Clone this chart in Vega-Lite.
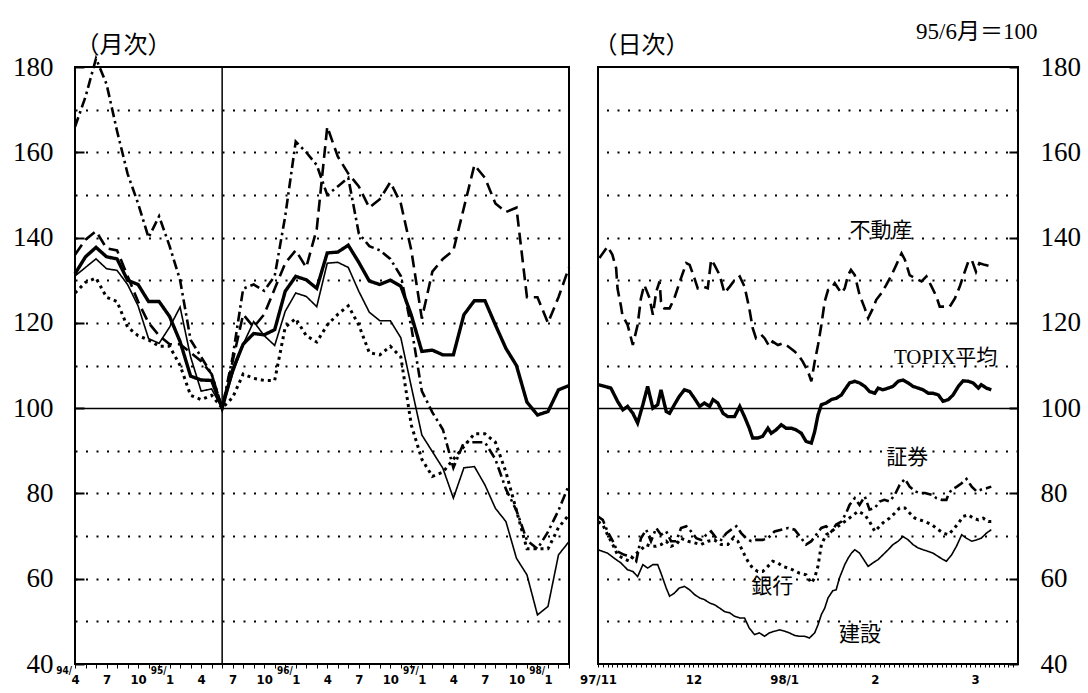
{
  "$schema": "https://vega.github.io/schema/vega-lite/v6.json",
  "background": "white",
  "padding": {"left": 11, "top": 19, "right": 5, "bottom": 2},
  "spacing": 29,
  "bounds": "flush",
  "config": {
    "view": {"stroke": "#000", "strokeWidth": 2},
    "axis": {"labelColor": "#000", "tickColor": "#000", "domain": false}
  },
  "datasets": {
    "monthly": [
      {"s":"TOPIX平均","i":0,"v":131.5},{"s":"TOPIX平均","i":1,"v":135.5},{"s":"TOPIX平均","i":2,"v":137.7},{"s":"TOPIX平均","i":3,"v":135.5},{"s":"TOPIX平均","i":4,"v":135},{"s":"TOPIX平均","i":5,"v":130},{"s":"TOPIX平均","i":6,"v":129},{"s":"TOPIX平均","i":7,"v":125},{"s":"TOPIX平均","i":8,"v":125},{"s":"TOPIX平均","i":9,"v":121.5},{"s":"TOPIX平均","i":10,"v":115.6},{"s":"TOPIX平均","i":11,"v":107.5},{"s":"TOPIX平均","i":12,"v":106.6},{"s":"TOPIX平均","i":13,"v":106.5},{"s":"TOPIX平均","i":14,"v":100},{"s":"TOPIX平均","i":15,"v":109},{"s":"TOPIX平均","i":16,"v":115},{"s":"TOPIX平均","i":17,"v":117.5},{"s":"TOPIX平均","i":18,"v":117.2},{"s":"TOPIX平均","i":19,"v":118.4},{"s":"TOPIX平均","i":20,"v":127.4},{"s":"TOPIX平均","i":21,"v":130.9},{"s":"TOPIX平均","i":22,"v":130.1},{"s":"TOPIX平均","i":23,"v":128.1},{"s":"TOPIX平均","i":24,"v":136.4},{"s":"TOPIX平均","i":25,"v":136.6},{"s":"TOPIX平均","i":26,"v":138.2},{"s":"TOPIX平均","i":27,"v":134.2},{"s":"TOPIX平均","i":28,"v":129.8},{"s":"TOPIX平均","i":29,"v":129},{"s":"TOPIX平均","i":30,"v":130},{"s":"TOPIX平均","i":31,"v":128.6},{"s":"TOPIX平均","i":32,"v":121.8},{"s":"TOPIX平均","i":33,"v":113.3},{"s":"TOPIX平均","i":34,"v":113.6},{"s":"TOPIX平均","i":35,"v":112.5},{"s":"TOPIX平均","i":36,"v":112.5},{"s":"TOPIX平均","i":37,"v":121.9},{"s":"TOPIX平均","i":38,"v":125.2},{"s":"TOPIX平均","i":39,"v":125.2},{"s":"TOPIX平均","i":40,"v":119.5},{"s":"TOPIX平均","i":41,"v":114},{"s":"TOPIX平均","i":42,"v":110},{"s":"TOPIX平均","i":43,"v":101.4},{"s":"TOPIX平均","i":44,"v":98.4},{"s":"TOPIX平均","i":45,"v":99.2},{"s":"TOPIX平均","i":46,"v":104.3},{"s":"TOPIX平均","i":47,"v":105.3},
      {"s":"建設","i":0,"v":131},{"s":"建設","i":1,"v":133},{"s":"建設","i":2,"v":135},{"s":"建設","i":3,"v":132.7},{"s":"建設","i":4,"v":132.3},{"s":"建設","i":5,"v":129},{"s":"建設","i":6,"v":124},{"s":"建設","i":7,"v":116.3},{"s":"建設","i":8,"v":115.2},{"s":"建設","i":9,"v":119},{"s":"建設","i":10,"v":123.7},{"s":"建設","i":11,"v":112},{"s":"建設","i":12,"v":104},{"s":"建設","i":13,"v":104.5},{"s":"建設","i":14,"v":100},{"s":"建設","i":15,"v":108},{"s":"建設","i":16,"v":115},{"s":"建設","i":17,"v":120.3},{"s":"建設","i":18,"v":117},{"s":"建設","i":19,"v":114.7},{"s":"建設","i":20,"v":122.7},{"s":"建設","i":21,"v":127},{"s":"建設","i":22,"v":126.2},{"s":"建設","i":23,"v":123.8},{"s":"建設","i":24,"v":134},{"s":"建設","i":25,"v":134.2},{"s":"建設","i":26,"v":133},{"s":"建設","i":27,"v":127.4},{"s":"建設","i":28,"v":122.5},{"s":"建設","i":29,"v":120.5},{"s":"建設","i":30,"v":120.5},{"s":"建設","i":31,"v":116.5},{"s":"建設","i":32,"v":105},{"s":"建設","i":33,"v":93.7},{"s":"建設","i":34,"v":89.8},{"s":"建設","i":35,"v":85.9},{"s":"建設","i":36,"v":78.9},{"s":"建設","i":37,"v":86},{"s":"建設","i":38,"v":86.3},{"s":"建設","i":39,"v":82},{"s":"建設","i":40,"v":76.5},{"s":"建設","i":41,"v":73.4},{"s":"建設","i":42,"v":64.8},{"s":"建設","i":43,"v":60.9},{"s":"建設","i":44,"v":51.5},{"s":"建設","i":45,"v":53.5},{"s":"建設","i":46,"v":65.6},{"s":"建設","i":47,"v":68.7},
      {"s":"銀行","i":0,"v":127},{"s":"銀行","i":1,"v":129.5},{"s":"銀行","i":2,"v":130.5},{"s":"銀行","i":3,"v":126},{"s":"銀行","i":4,"v":125},{"s":"銀行","i":5,"v":119},{"s":"銀行","i":6,"v":117},{"s":"銀行","i":7,"v":116},{"s":"銀行","i":8,"v":114.5},{"s":"銀行","i":9,"v":114.5},{"s":"銀行","i":10,"v":110},{"s":"銀行","i":11,"v":103},{"s":"銀行","i":12,"v":102},{"s":"銀行","i":13,"v":103},{"s":"銀行","i":14,"v":100},{"s":"銀行","i":15,"v":102.5},{"s":"銀行","i":16,"v":108},{"s":"銀行","i":17,"v":107},{"s":"銀行","i":18,"v":106.5},{"s":"銀行","i":19,"v":106.5},{"s":"銀行","i":20,"v":119},{"s":"銀行","i":21,"v":121},{"s":"銀行","i":22,"v":117},{"s":"銀行","i":23,"v":115.5},{"s":"銀行","i":24,"v":119.5},{"s":"銀行","i":25,"v":122},{"s":"銀行","i":26,"v":124},{"s":"銀行","i":27,"v":119.5},{"s":"銀行","i":28,"v":113},{"s":"銀行","i":29,"v":112.5},{"s":"銀行","i":30,"v":114.5},{"s":"銀行","i":31,"v":112},{"s":"銀行","i":32,"v":96},{"s":"銀行","i":33,"v":88},{"s":"銀行","i":34,"v":84},{"s":"銀行","i":35,"v":85},{"s":"銀行","i":36,"v":88},{"s":"銀行","i":37,"v":91},{"s":"銀行","i":38,"v":94},{"s":"銀行","i":39,"v":94},{"s":"銀行","i":40,"v":92},{"s":"銀行","i":41,"v":85},{"s":"銀行","i":42,"v":76},{"s":"銀行","i":43,"v":67},{"s":"銀行","i":44,"v":67},{"s":"銀行","i":45,"v":67},{"s":"銀行","i":46,"v":72},{"s":"銀行","i":47,"v":75},
      {"s":"証券","i":0,"v":166},{"s":"証券","i":1,"v":173},{"s":"証券","i":2,"v":182},{"s":"証券","i":3,"v":176},{"s":"証券","i":4,"v":165},{"s":"証券","i":5,"v":155},{"s":"証券","i":6,"v":148},{"s":"証券","i":7,"v":140},{"s":"証券","i":8,"v":145},{"s":"証券","i":9,"v":138},{"s":"証券","i":10,"v":130},{"s":"証券","i":11,"v":116},{"s":"証券","i":12,"v":112},{"s":"証券","i":13,"v":108},{"s":"証券","i":14,"v":100},{"s":"証券","i":15,"v":112},{"s":"証券","i":16,"v":128},{"s":"証券","i":17,"v":129},{"s":"証券","i":18,"v":127.5},{"s":"証券","i":19,"v":131},{"s":"証券","i":20,"v":145},{"s":"証券","i":21,"v":162.5},{"s":"証券","i":22,"v":160},{"s":"証券","i":23,"v":157},{"s":"証券","i":24,"v":150},{"s":"証券","i":25,"v":152},{"s":"証券","i":26,"v":154},{"s":"証券","i":27,"v":141},{"s":"証券","i":28,"v":138},{"s":"証券","i":29,"v":137},{"s":"証券","i":30,"v":135},{"s":"証券","i":31,"v":131},{"s":"証券","i":32,"v":119},{"s":"証券","i":33,"v":104},{"s":"証券","i":34,"v":99},{"s":"証券","i":35,"v":95},{"s":"証券","i":36,"v":86},{"s":"証券","i":37,"v":92},{"s":"証券","i":38,"v":92},{"s":"証券","i":39,"v":92},{"s":"証券","i":40,"v":88},{"s":"証券","i":41,"v":81},{"s":"証券","i":42,"v":76},{"s":"証券","i":43,"v":69},{"s":"証券","i":44,"v":67},{"s":"証券","i":45,"v":71},{"s":"証券","i":46,"v":76},{"s":"証券","i":47,"v":82},
      {"s":"不動産","i":0,"v":136},{"s":"不動産","i":1,"v":139.5},{"s":"不動産","i":2,"v":141.5},{"s":"不動産","i":3,"v":137.5},{"s":"不動産","i":4,"v":137},{"s":"不動産","i":5,"v":131},{"s":"不動産","i":6,"v":125},{"s":"不動産","i":7,"v":120},{"s":"不動産","i":8,"v":117},{"s":"不動産","i":9,"v":115},{"s":"不動産","i":10,"v":115},{"s":"不動産","i":11,"v":113},{"s":"不動産","i":12,"v":111},{"s":"不動産","i":13,"v":108},{"s":"不動産","i":14,"v":100},{"s":"不動産","i":15,"v":111},{"s":"不動産","i":16,"v":122},{"s":"不動産","i":17,"v":119},{"s":"不動産","i":18,"v":122},{"s":"不動産","i":19,"v":128},{"s":"不動産","i":20,"v":134},{"s":"不動産","i":21,"v":137},{"s":"不動産","i":22,"v":133},{"s":"不動産","i":23,"v":142},{"s":"不動産","i":24,"v":166},{"s":"不動産","i":25,"v":159},{"s":"不動産","i":26,"v":155},{"s":"不動産","i":27,"v":152},{"s":"不動産","i":28,"v":147},{"s":"不動産","i":29,"v":149},{"s":"不動産","i":30,"v":153},{"s":"不動産","i":31,"v":148},{"s":"不動産","i":32,"v":137},{"s":"不動産","i":33,"v":121},{"s":"不動産","i":34,"v":132},{"s":"不動産","i":35,"v":135},{"s":"不動産","i":36,"v":137},{"s":"不動産","i":37,"v":147},{"s":"不動産","i":38,"v":157},{"s":"不動産","i":39,"v":154},{"s":"不動産","i":40,"v":148},{"s":"不動産","i":41,"v":146},{"s":"不動産","i":42,"v":147},{"s":"不動産","i":43,"v":126},{"s":"不動産","i":44,"v":126},{"s":"不動産","i":45,"v":120},{"s":"不動産","i":46,"v":126},{"s":"不動産","i":47,"v":133}
    ],
    "years": [
      {"i":0,"t":"94/"},{"i":9,"t":"95/"},{"i":21,"t":"96/"},{"i":33,"t":"97/"},{"i":45,"t":"98/"}
    ],
    "base": [{"i":14}],
    "daily": [
      {"s":"TOPIX平均","d":0,"v":105.5},{"s":"TOPIX平均","d":1.7,"v":105},{"s":"TOPIX平均","d":2.7,"v":104.7},{"s":"TOPIX平均","d":4.1,"v":101.6},{"s":"TOPIX平均","d":5.2,"v":99.6},{"s":"TOPIX平均","d":6.2,"v":100.4},{"s":"TOPIX平均","d":7.3,"v":98.8},{"s":"TOPIX平均","d":8.3,"v":96.5},{"s":"TOPIX平均","d":9.4,"v":100.8},{"s":"TOPIX平均","d":10.4,"v":105.1},{"s":"TOPIX平均","d":11.5,"v":100},{"s":"TOPIX平均","d":12.5,"v":100.8},{"s":"TOPIX平均","d":13.2,"v":104.3},{"s":"TOPIX平均","d":14.3,"v":99.2},{"s":"TOPIX平均","d":15,"v":98.8},{"s":"TOPIX平均","d":16,"v":100.8},{"s":"TOPIX平均","d":17,"v":102.7},{"s":"TOPIX平均","d":18.1,"v":104.3},{"s":"TOPIX平均","d":19.2,"v":103.9},{"s":"TOPIX平均","d":20.2,"v":102.3},{"s":"TOPIX平均","d":21.3,"v":100.4},{"s":"TOPIX平均","d":22.3,"v":101.2},{"s":"TOPIX平均","d":23.4,"v":100.4},{"s":"TOPIX平均","d":24.1,"v":102},{"s":"TOPIX平均","d":25.1,"v":101.2},{"s":"TOPIX平均","d":26.2,"v":98.8},{"s":"TOPIX平均","d":27.2,"v":98},{"s":"TOPIX平均","d":28.6,"v":98},{"s":"TOPIX平均","d":29.7,"v":100.4},{"s":"TOPIX平均","d":30.7,"v":98},{"s":"TOPIX平均","d":31.7,"v":95.3},{"s":"TOPIX平均","d":32.4,"v":93},{"s":"TOPIX平均","d":33.5,"v":93},{"s":"TOPIX平均","d":34.5,"v":93.4},{"s":"TOPIX平均","d":35.6,"v":95.3},{"s":"TOPIX平均","d":36.3,"v":94.1},{"s":"TOPIX平均","d":37.3,"v":94.9},{"s":"TOPIX平均","d":38.4,"v":96.1},{"s":"TOPIX平均","d":39.4,"v":95.3},{"s":"TOPIX平均","d":40.5,"v":95.3},{"s":"TOPIX平均","d":41.5,"v":94.9},{"s":"TOPIX平均","d":42.6,"v":94.1},{"s":"TOPIX平均","d":43.6,"v":92.2},{"s":"TOPIX平均","d":44.7,"v":91.8},{"s":"TOPIX平均","d":45.4,"v":94.5},{"s":"TOPIX平均","d":46.1,"v":98.4},{"s":"TOPIX平均","d":46.8,"v":100.8},{"s":"TOPIX平均","d":47.8,"v":101.2},{"s":"TOPIX平均","d":48.9,"v":102},{"s":"TOPIX平均","d":49.9,"v":102.3},{"s":"TOPIX平均","d":51,"v":103.1},{"s":"TOPIX平均","d":51.7,"v":104.3},{"s":"TOPIX平均","d":52.7,"v":105.9},{"s":"TOPIX平均","d":53.8,"v":106.3},{"s":"TOPIX平均","d":54.8,"v":105.9},{"s":"TOPIX平均","d":55.9,"v":105.1},{"s":"TOPIX平均","d":56.9,"v":103.9},{"s":"TOPIX平均","d":58,"v":103.5},{"s":"TOPIX平均","d":58.7,"v":104.7},{"s":"TOPIX平均","d":59.7,"v":104.3},{"s":"TOPIX平均","d":60.8,"v":104.7},{"s":"TOPIX平均","d":61.8,"v":105.1},{"s":"TOPIX平均","d":62.9,"v":106.3},{"s":"TOPIX平均","d":63.9,"v":106.6},{"s":"TOPIX平均","d":65,"v":105.9},{"s":"TOPIX平均","d":66,"v":105.1},{"s":"TOPIX平均","d":67.1,"v":104.7},{"s":"TOPIX平均","d":68.1,"v":104.3},{"s":"TOPIX平均","d":69.2,"v":103.5},{"s":"TOPIX平均","d":70.2,"v":103.5},{"s":"TOPIX平均","d":71.3,"v":103.1},{"s":"TOPIX平均","d":72.3,"v":101.6},{"s":"TOPIX平均","d":73.4,"v":102},{"s":"TOPIX平均","d":74.4,"v":103.1},{"s":"TOPIX平均","d":75.5,"v":105.1},{"s":"TOPIX平均","d":76.5,"v":106.4},{"s":"TOPIX平均","d":77.6,"v":106.3},{"s":"TOPIX平均","d":78.6,"v":105.9},{"s":"TOPIX平均","d":79.7,"v":104.7},{"s":"TOPIX平均","d":80.3,"v":105.5},{"s":"TOPIX平均","d":81.4,"v":104.7},{"s":"TOPIX平均","d":82.4,"v":104.3},
      {"s":"建設","d":0,"v":66.8},{"s":"建設","d":2,"v":66},{"s":"建設","d":3.4,"v":64.8},{"s":"建設","d":4.8,"v":63.7},{"s":"建設","d":6.2,"v":62.1},{"s":"建設","d":7.3,"v":61.7},{"s":"建設","d":8.3,"v":60.5},{"s":"建設","d":9.4,"v":63.3},{"s":"建設","d":10.4,"v":62.5},{"s":"建設","d":11.5,"v":63.3},{"s":"建設","d":12.5,"v":63.3},{"s":"建設","d":13.2,"v":61.3},{"s":"建設","d":14.3,"v":57.8},{"s":"建設","d":15,"v":55.9},{"s":"建設","d":16,"v":56.6},{"s":"建設","d":17,"v":57.8},{"s":"建設","d":18.1,"v":58.2},{"s":"建設","d":19.2,"v":57.4},{"s":"建設","d":20.2,"v":56.3},{"s":"建設","d":21.3,"v":55.5},{"s":"建設","d":22.3,"v":55.1},{"s":"建設","d":23.4,"v":54.3},{"s":"建設","d":24.4,"v":53.9},{"s":"建設","d":25.5,"v":53.1},{"s":"建設","d":26.5,"v":52.3},{"s":"建設","d":27.6,"v":52},{"s":"建設","d":28.6,"v":51.2},{"s":"建設","d":29.7,"v":50.8},{"s":"建設","d":30.7,"v":50.8},{"s":"建設","d":31.7,"v":48.4},{"s":"建設","d":32.8,"v":46.9},{"s":"建設","d":33.8,"v":47.3},{"s":"建設","d":34.9,"v":46.5},{"s":"建設","d":35.9,"v":47.3},{"s":"建設","d":37,"v":47.7},{"s":"建設","d":38,"v":48},{"s":"建設","d":39.1,"v":47.7},{"s":"建設","d":40.1,"v":47.3},{"s":"建設","d":41.2,"v":46.7},{"s":"建設","d":42.2,"v":46.5},{"s":"建設","d":43.3,"v":46.5},{"s":"建設","d":44.3,"v":46.1},{"s":"建設","d":45.4,"v":47.3},{"s":"建設","d":46.1,"v":49.2},{"s":"建設","d":46.8,"v":51.6},{"s":"建設","d":47.5,"v":53.1},{"s":"建設","d":48.2,"v":55.5},{"s":"建設","d":49.2,"v":57.2},{"s":"建設","d":49.9,"v":57.4},{"s":"建設","d":50.6,"v":60.2},{"s":"建設","d":51.7,"v":63.3},{"s":"建設","d":52.4,"v":64.8},{"s":"建設","d":53.1,"v":66},{"s":"建設","d":53.8,"v":66.8},{"s":"建設","d":54.8,"v":66},{"s":"建設","d":55.9,"v":64.1},{"s":"建設","d":56.6,"v":62.9},{"s":"建設","d":57.6,"v":63.7},{"s":"建設","d":58.7,"v":64.5},{"s":"建設","d":59.7,"v":65.6},{"s":"建設","d":60.8,"v":66.8},{"s":"建設","d":61.8,"v":68},{"s":"建設","d":62.9,"v":68.8},{"s":"建設","d":63.9,"v":69.9},{"s":"建設","d":65,"v":69.1},{"s":"建設","d":66,"v":68},{"s":"建設","d":67.1,"v":67.2},{"s":"建設","d":68.1,"v":66.8},{"s":"建設","d":69.2,"v":66.4},{"s":"建設","d":70.2,"v":66},{"s":"建設","d":71.3,"v":65.2},{"s":"建設","d":72.3,"v":64.5},{"s":"建設","d":73,"v":64.1},{"s":"建設","d":74.1,"v":65.6},{"s":"建設","d":75.1,"v":67.6},{"s":"建設","d":76.2,"v":70.3},{"s":"建設","d":77.2,"v":69.5},{"s":"建設","d":78.3,"v":68.8},{"s":"建設","d":79.3,"v":69.1},{"s":"建設","d":80.3,"v":69.5},{"s":"建設","d":81.4,"v":70.7},{"s":"建設","d":82.4,"v":71.5},
      {"s":"証券","d":0,"v":74.6},{"s":"証券","d":1,"v":73.8},{"s":"証券","d":2,"v":71.1},{"s":"証券","d":3.1,"v":68.8},{"s":"証券","d":4.1,"v":66.4},{"s":"証券","d":5.5,"v":65.6},{"s":"証券","d":6.9,"v":65.2},{"s":"証券","d":8,"v":64.1},{"s":"証券","d":9,"v":69.5},{"s":"証券","d":10.1,"v":71.5},{"s":"証券","d":11.1,"v":68.8},{"s":"証券","d":12.2,"v":71.9},{"s":"証券","d":13.2,"v":70.3},{"s":"証券","d":14.3,"v":71.1},{"s":"証券","d":15.3,"v":68.8},{"s":"証券","d":16.4,"v":68.8},{"s":"証券","d":17.4,"v":71.9},{"s":"証券","d":18.5,"v":72.3},{"s":"証券","d":19.5,"v":71.1},{"s":"証券","d":20.6,"v":69.5},{"s":"証券","d":21.6,"v":69.1},{"s":"証券","d":22.7,"v":70.3},{"s":"証券","d":23.7,"v":71.1},{"s":"証券","d":24.8,"v":69.5},{"s":"証券","d":25.8,"v":69.1},{"s":"証券","d":26.9,"v":70.7},{"s":"証券","d":27.9,"v":71.5},{"s":"証券","d":29,"v":72.3},{"s":"証券","d":30,"v":70.7},{"s":"証券","d":31,"v":69.5},{"s":"証券","d":32.1,"v":68.8},{"s":"証券","d":33.1,"v":69.1},{"s":"証券","d":34.5,"v":69.1},{"s":"証券","d":35.6,"v":69.5},{"s":"証券","d":37,"v":71.1},{"s":"証券","d":38.4,"v":71.5},{"s":"証券","d":39.8,"v":71.9},{"s":"証券","d":41.2,"v":71.5},{"s":"証券","d":42.6,"v":69.5},{"s":"証券","d":43.6,"v":68},{"s":"証券","d":44.7,"v":68.8},{"s":"証券","d":45.7,"v":70.3},{"s":"証券","d":46.8,"v":71.9},{"s":"証券","d":47.8,"v":72.3},{"s":"証券","d":48.9,"v":71.1},{"s":"証券","d":49.9,"v":72.7},{"s":"証券","d":51,"v":73.4},{"s":"証券","d":52,"v":75.4},{"s":"証券","d":52.7,"v":77.3},{"s":"証券","d":53.8,"v":78.9},{"s":"証券","d":54.8,"v":77.3},{"s":"証券","d":55.9,"v":79.3},{"s":"証券","d":56.9,"v":76.2},{"s":"証券","d":58,"v":76.6},{"s":"証券","d":59,"v":78.1},{"s":"証券","d":60,"v":78.5},{"s":"証券","d":61.1,"v":78.1},{"s":"証券","d":62.2,"v":79.7},{"s":"証券","d":63.2,"v":82},{"s":"証券","d":64.3,"v":83.4},{"s":"証券","d":65.3,"v":81.6},{"s":"証券","d":66.4,"v":80.5},{"s":"証券","d":67.4,"v":80.1},{"s":"証券","d":68.5,"v":80.1},{"s":"証券","d":69.9,"v":79.7},{"s":"証券","d":70.9,"v":78.9},{"s":"証券","d":72,"v":78.5},{"s":"証券","d":73,"v":78.5},{"s":"証券","d":73.4,"v":79.7},{"s":"証券","d":74.1,"v":80.9},{"s":"証券","d":75.2,"v":81.6},{"s":"証券","d":76.2,"v":82.4},{"s":"証券","d":77.2,"v":83.4},{"s":"証券","d":78.3,"v":81.6},{"s":"証券","d":79.3,"v":80.5},{"s":"証券","d":80.3,"v":80.9},{"s":"証券","d":81.4,"v":81.2},{"s":"証券","d":82.4,"v":81.6},
      {"s":"銀行","d":0,"v":73.4},{"s":"銀行","d":1,"v":72.7},{"s":"銀行","d":2,"v":70.3},{"s":"銀行","d":3.1,"v":68},{"s":"銀行","d":4.1,"v":65.6},{"s":"銀行","d":5.2,"v":64.8},{"s":"銀行","d":6.6,"v":64.1},{"s":"銀行","d":7.7,"v":65.6},{"s":"銀行","d":9,"v":66.8},{"s":"銀行","d":10.1,"v":68},{"s":"銀行","d":11.1,"v":67.6},{"s":"銀行","d":12.2,"v":67.6},{"s":"銀行","d":13.2,"v":68},{"s":"銀行","d":14.3,"v":68.8},{"s":"銀行","d":15.3,"v":67.6},{"s":"銀行","d":16.4,"v":68},{"s":"銀行","d":17.4,"v":69.5},{"s":"銀行","d":18.8,"v":68.8},{"s":"銀行","d":20.2,"v":68.4},{"s":"銀行","d":21.6,"v":68},{"s":"銀行","d":23,"v":68.8},{"s":"銀行","d":24.4,"v":69.1},{"s":"銀行","d":25.8,"v":68},{"s":"銀行","d":27.2,"v":68},{"s":"銀行","d":28.3,"v":69.5},{"s":"銀行","d":29.3,"v":68.8},{"s":"銀行","d":30.7,"v":65.6},{"s":"銀行","d":31.4,"v":64.1},{"s":"銀行","d":32.4,"v":62.5},{"s":"銀行","d":33.5,"v":61.7},{"s":"銀行","d":34.5,"v":61.7},{"s":"銀行","d":35.6,"v":62.9},{"s":"銀行","d":36.6,"v":64.1},{"s":"銀行","d":37.7,"v":63.7},{"s":"銀行","d":38.7,"v":62.9},{"s":"銀行","d":39.8,"v":62.5},{"s":"銀行","d":40.8,"v":62.1},{"s":"銀行","d":42.2,"v":61.3},{"s":"銀行","d":43.6,"v":60.9},{"s":"銀行","d":44.7,"v":59},{"s":"銀行","d":45.4,"v":60.2},{"s":"銀行","d":46.1,"v":63},{"s":"銀行","d":46.8,"v":68},{"s":"銀行","d":47.8,"v":70.3},{"s":"銀行","d":48.9,"v":71.1},{"s":"銀行","d":50.3,"v":72.3},{"s":"銀行","d":51.7,"v":73.4},{"s":"銀行","d":53.1,"v":74.6},{"s":"銀行","d":54.5,"v":75.8},{"s":"銀行","d":55.9,"v":75},{"s":"銀行","d":56.9,"v":73.4},{"s":"銀行","d":58,"v":71.1},{"s":"銀行","d":59,"v":72.3},{"s":"銀行","d":60,"v":73.4},{"s":"銀行","d":61.1,"v":74.2},{"s":"銀行","d":62.2,"v":75.4},{"s":"銀行","d":63.2,"v":76.6},{"s":"銀行","d":64.3,"v":76.6},{"s":"銀行","d":65.3,"v":75.4},{"s":"銀行","d":66.4,"v":74.2},{"s":"銀行","d":67.4,"v":73.8},{"s":"銀行","d":68.5,"v":73.4},{"s":"銀行","d":69.9,"v":72.7},{"s":"銀行","d":71.3,"v":71.5},{"s":"銀行","d":72.3,"v":70.7},{"s":"銀行","d":73.4,"v":70.3},{"s":"銀行","d":74.4,"v":71.5},{"s":"銀行","d":75.5,"v":73},{"s":"銀行","d":76.5,"v":74.6},{"s":"銀行","d":77.6,"v":75},{"s":"銀行","d":78.6,"v":74.2},{"s":"銀行","d":79.7,"v":73.8},{"s":"銀行","d":80.7,"v":74.2},{"s":"銀行","d":81.8,"v":73.4},{"s":"銀行","d":82.4,"v":73.4},
      {"s":"不動産","d":0.3,"v":135.2},{"s":"不動産","d":2,"v":137.9},{"s":"不動産","d":3,"v":136},{"s":"不動産","d":3.8,"v":132.8},{"s":"不動産","d":4.1,"v":128},{"s":"不動産","d":4.8,"v":124},{"s":"不動産","d":5.1,"v":121.9},{"s":"不動産","d":6.2,"v":119.5},{"s":"不動産","d":7.3,"v":114.8},{"s":"不動産","d":8.3,"v":119.5},{"s":"不動産","d":9,"v":125.8},{"s":"不動産","d":9.7,"v":128.9},{"s":"不動産","d":10.8,"v":125.8},{"s":"不動産","d":11.5,"v":121.9},{"s":"不動産","d":12.2,"v":127.3},{"s":"不動産","d":12.9,"v":129.7},{"s":"不動産","d":13.2,"v":125},{"s":"不動産","d":13.9,"v":123.4},{"s":"不動産","d":15,"v":123.4},{"s":"不動産","d":16,"v":125.8},{"s":"不動産","d":17.4,"v":130.5},{"s":"不動産","d":18.5,"v":134},{"s":"不動産","d":19.2,"v":133.6},{"s":"不動産","d":20.2,"v":130.5},{"s":"不動産","d":20.9,"v":128.1},{"s":"不動産","d":22,"v":128.5},{"s":"不動産","d":23,"v":128.1},{"s":"不動産","d":23.7,"v":134.8},{"s":"不動産","d":24.4,"v":133.6},{"s":"不動産","d":25.5,"v":131.2},{"s":"不動産","d":26.5,"v":127},{"s":"不動産","d":27.6,"v":128.5},{"s":"不動産","d":28.6,"v":130},{"s":"不動産","d":29.7,"v":130.9},{"s":"不動産","d":30.7,"v":128.5},{"s":"不動産","d":31.7,"v":123.4},{"s":"不動産","d":32.4,"v":118.8},{"s":"不動産","d":33.1,"v":116.4},{"s":"不動産","d":34.2,"v":117.2},{"s":"不動産","d":34.9,"v":116.4},{"s":"不動産","d":35.9,"v":114.5},{"s":"不動産","d":36.6,"v":115.6},{"s":"不動産","d":37.7,"v":114.8},{"s":"不動産","d":38.7,"v":115.2},{"s":"不動産","d":39.8,"v":114.5},{"s":"不動産","d":41.2,"v":113.3},{"s":"不動産","d":42.2,"v":112.1},{"s":"不動産","d":42.9,"v":110.9},{"s":"不動産","d":44,"v":108.6},{"s":"不動産","d":44.7,"v":106.3},{"s":"不動産","d":45.4,"v":110.9},{"s":"不動産","d":46.1,"v":114.8},{"s":"不動産","d":46.8,"v":119.5},{"s":"不動産","d":47.5,"v":125},{"s":"不動産","d":48.2,"v":127.7},{"s":"不動産","d":48.9,"v":128.1},{"s":"不動産","d":49.6,"v":129.3},{"s":"不動産","d":50.3,"v":128.1},{"s":"不動産","d":51,"v":127},{"s":"不動産","d":51.7,"v":128.1},{"s":"不動産","d":52.4,"v":131.2},{"s":"不動産","d":53,"v":132.4},{"s":"不動産","d":53.8,"v":131.2},{"s":"不動産","d":54.8,"v":126.6},{"s":"不動産","d":55.9,"v":123.4},{"s":"不動産","d":56.6,"v":121.1},{"s":"不動産","d":57.6,"v":123.4},{"s":"不動産","d":58.3,"v":125.4},{"s":"不動産","d":59.4,"v":127},{"s":"不動産","d":60.4,"v":128.9},{"s":"不動産","d":61.5,"v":131.2},{"s":"不動産","d":62.5,"v":133.6},{"s":"不動産","d":63.6,"v":136.3},{"s":"不動産","d":64.3,"v":134.8},{"s":"不動産","d":65.3,"v":131.2},{"s":"不動産","d":66.4,"v":130.5},{"s":"不動産","d":67.8,"v":129.7},{"s":"不動産","d":68.8,"v":130.9},{"s":"不動産","d":69.9,"v":128.5},{"s":"不動産","d":70.9,"v":126.2},{"s":"不動産","d":71.6,"v":123.8},{"s":"不動産","d":72.7,"v":123.8},{"s":"不動産","d":73.7,"v":123.8},{"s":"不動産","d":74.8,"v":125.8},{"s":"不動産","d":75.8,"v":128.5},{"s":"不動産","d":76.5,"v":130.9},{"s":"不動産","d":77.6,"v":134.4},{"s":"不動産","d":78.3,"v":134.8},{"s":"不動産","d":79.2,"v":132},{"s":"不動産","d":79.9,"v":134},{"s":"不動産","d":81,"v":133.6},{"s":"不動産","d":82.4,"v":133.2}
    ],
    "labels": [
      {"t":"不動産","d":52.7,"v":141.5},
      {"t":"TOPIX平均","d":62,"v":111.7},
      {"t":"証券","d":60.4,"v":88.3},
      {"t":"銀行","d":32.1,"v":58},
      {"t":"建設","d":50.5,"v":46.7}
    ]
  },
  "hconcat": [
    {
      "width": 494,
      "height": 597,
      "resolve": {"axis": {"x": "independent"}},
      "layer": [
        {
          "data": {"name": "monthly"},
          "mark": {"type": "line", "color": "#000"},
          "encoding": {
            "x": {"field": "i", "type": "quantitative", "scale": {"domain": [0, 47], "nice": false, "zero": false},
              "axis": {"orient": "bottom", "title": null, "values": [0,1,2,3,4,5,6,7,8,9,10,11,12,13,14,15,16,17,18,19,20,21,22,23,24,25,26,27,28,29,30,31,32,33,34,35,36,37,38,39,40,41,42,43,44,45,46,47],
                "labels": false, "grid": false, "domain": false, "tickSize": 4, "tickWidth": 1}},
            "y": {"field": "v", "type": "quantitative", "scale": {"domain": [40, 180], "nice": false, "zero": false},
              "axis": {"orient": "left", "values": [40,45,50,55,60,65,70,75,80,85,90,95,100,105,110,115,120,125,130,135,140,145,150,155,160,165,170,175,180],
                "labelExpr": "datum.value % 20 === 0 ? datum.label : ''",
                "labelOverlap": false, "domain": false, "grid": true, "gridColor": "#000",
                "gridDash": {"condition": {"test": "datum.value === 100", "value": [1, 0]}, "value": [2, 8.5]},
                "gridWidth": {"condition": {"test": "datum.value === 100", "value": 1.5}, "value": 2},
                "gridOpacity": {"condition": {"test": "datum.value === 40 || datum.value === 180", "value": 0}, "value": 1},
                "tickOpacity": {"condition": {"test": "datum.value % 20 === 0", "value": 1}, "value": 0},
                "tickSize": -9, "tickWidth": 2, "labelPadding": 31,
                "labelFont": "Liberation Serif", "labelFontSize": 27,
                "title": "（月次）", "titleAngle": 0, "titleAlign": "left", "titleBaseline": "alphabetic",
                "titleX": 0, "titleY": -15, "titleFont": "Noto Sans CJK JP", "titleFontSize": 24, "titleFontWeight": "normal", "titleColor": "#000"}},
            "strokeDash": {"field": "s", "type": "nominal", "legend": null,
              "scale": {"domain": ["TOPIX平均", "建設", "銀行", "証券", "不動産"], "range": [[1, 0], [1, 0], [3, 4], [10, 4, 2.5, 4], [12, 6]]}},
            "strokeWidth": {"condition": [{"test": "datum.s === 'TOPIX平均'", "value": 3.4}, {"test": "datum.s === '建設'", "value": 1.6}, {"test": "datum.s === '銀行'", "value": 3}], "value": 2.6}
          }
        },
        {
          "data": {"name": "base"},
          "mark": {"type": "rule", "color": "#000", "strokeWidth": 1.5},
          "encoding": {"x": {"field": "i", "type": "quantitative", "axis": null}}
        },
        {
          "data": {"name": "years"},
          "mark": {"type": "text", "align": "right", "baseline": "top", "dx": -3, "dy": 2, "fontSize": 10, "fontWeight": "bold", "font": "DejaVu Sans Condensed, Liberation Sans Narrow, DejaVu Sans", "color": "#000"},
          "encoding": {
            "x": {"field": "i", "type": "quantitative",
              "axis": {"orient": "bottom", "title": null, "values": [0,3,6,9,12,15,18,21,24,27,30,33,36,39,42,45],
                "labelExpr": "toString((round(datum.value) + 3) % 12 + 1)",
                "ticks": false, "grid": false, "domain": false, "labelOverlap": false, "labelFlush": false, "labelPadding": 9,
                "labelFont": "DejaVu Sans Condensed, Liberation Sans Narrow, DejaVu Sans", "labelFontWeight": "bold", "labelFontSize": 13}},
            "y": {"datum": 40},
            "text": {"field": "t"}
          }
        }
      ]
    },
    {
      "width": 420,
      "height": 597,
      "resolve": {"axis": {"x": "independent"}},
      "layer": [
        {
          "data": {"name": "daily"},
          "mark": {"type": "line", "color": "#000"},
          "encoding": {
            "x": {"field": "d", "type": "quantitative", "scale": {"domain": [0, 88], "nice": false, "zero": false},
              "axis": {"orient": "bottom", "values": [0,1,2,3,4,5,6,7,8,9,10,11,12,13,14,15,16,17,18,19,20,21,22,23,24,25,26,27,28,29,30,31,32,33,34,35,36,37,38,39,40,41,42,43,44,45,46,47,48,49,50,51,52,53,54,55,56,57,58,59,60,61,62,63,64,65,66,67,68,69,70,71,72,73,74,75,76,77,78,79,80,81,82,83,84,85,86,87],
                "labels": false, "grid": false, "domain": false, "tickSize": 3, "tickWidth": 1,
                "title": "（日次）", "titleAngle": 0, "titleAlign": "left", "titleBaseline": "alphabetic",
                "titleX": -5, "titleY": -612, "titleFont": "Noto Sans CJK JP", "titleFontSize": 24, "titleFontWeight": "normal", "titleColor": "#000"}},
            "y": {"field": "v", "type": "quantitative", "scale": {"domain": [40, 180], "nice": false, "zero": false},
              "axis": {"orient": "right", "values": [40,45,50,55,60,65,70,75,80,85,90,95,100,105,110,115,120,125,130,135,140,145,150,155,160,165,170,175,180],
                "labelExpr": "datum.value % 20 === 0 ? datum.label : ''",
                "labelOverlap": false, "domain": false, "grid": true, "gridColor": "#000",
                "gridDash": {"condition": {"test": "datum.value === 100", "value": [1, 0]}, "value": [2, 8.5]},
                "gridWidth": {"condition": {"test": "datum.value === 100", "value": 1.5}, "value": 2},
                "gridOpacity": {"condition": {"test": "datum.value === 40 || datum.value === 180", "value": 0}, "value": 1},
                "tickOpacity": {"condition": {"test": "datum.value % 20 === 0", "value": 1}, "value": 0},
                "tickSize": -9, "tickWidth": 2, "labelPadding": 31,
                "labelFont": "Liberation Serif", "labelFontSize": 27,
                "title": "95/6月＝100", "titleAngle": 0, "titleAlign": "right", "titleBaseline": "alphabetic",
                "titleX": 19, "titleY": -29, "titleFont": "Liberation Serif, Noto Sans CJK JP", "titleFontSize": 23, "titleFontWeight": "normal", "titleColor": "#000"}},
            "strokeDash": {"field": "s", "type": "nominal", "legend": null,
              "scale": {"domain": ["TOPIX平均", "建設", "銀行", "証券", "不動産"], "range": [[1, 0], [1, 0], [3, 4], [10, 4, 2.5, 4], [12, 6]]}},
            "strokeWidth": {"condition": [{"test": "datum.s === 'TOPIX平均'", "value": 3.4}, {"test": "datum.s === '建設'", "value": 1.6}, {"test": "datum.s === '銀行'", "value": 3}], "value": 2.6}
          }
        },
        {
          "data": {"name": "labels"},
          "mark": {"type": "text", "align": "left", "baseline": "middle", "fontSize": 21, "font": "Liberation Serif, Noto Sans CJK JP", "color": "#000"},
          "encoding": {
            "x": {"field": "d", "type": "quantitative",
              "axis": {"orient": "bottom", "title": null, "values": [0, 20, 39, 58, 79],
                "labelExpr": "datum.value < 10 ? '97/11' : datum.value < 30 ? '12' : datum.value < 48 ? '98/1' : datum.value < 68 ? '2' : '3'",
                "ticks": false, "grid": false, "domain": false, "labelOverlap": false, "labelFlush": false, "labelPadding": 9,
                "labelFont": "DejaVu Sans Condensed, Liberation Sans Narrow, DejaVu Sans", "labelFontWeight": "bold", "labelFontSize": 13}},
            "y": {"field": "v", "type": "quantitative"},
            "text": {"field": "t"}
          }
        }
      ]
    }
  ]
}
